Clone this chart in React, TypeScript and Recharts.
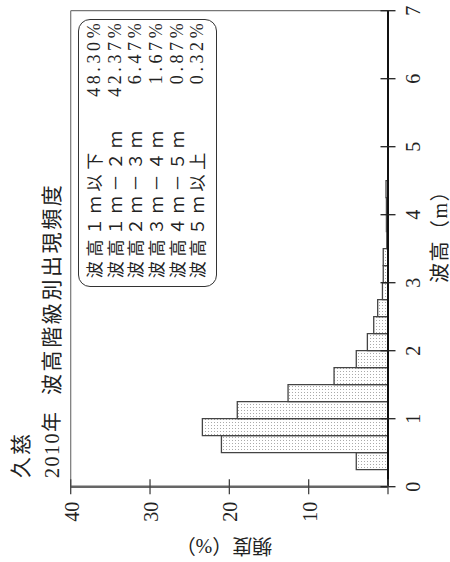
import { BarChart, Bar, XAxis, YAxis, ReferenceLine } from "recharts"

// wave height bins (m, bin centre) and their frequency (%)
const binCenters = [
  0.125, 0.375, 0.625, 0.875, 1.125, 1.375, 1.625, 1.875,
  2.125, 2.375, 2.625, 2.875, 3.125, 3.375, 3.625, 3.875,
  4.125, 4.375, 4.625, 4.875, 5.125, 5.375, 5.625, 5.875,
  6.125, 6.375, 6.625, 6.875,
]
const frequencies = [
  0, 4.0, 21.0, 23.4, 19.0, 12.6, 6.8, 4.0,
  2.6, 1.8, 1.3, 0.7, 0.6, 0.6, 0.15, 0.2,
  0.2, 0.25, 0, 0, 0, 0, 0, 0,
  0, 0, 0, 0,
]

const waveTicks = [0, 1, 2, 3, 4, 5, 6, 7]
const freqTicks = [0, 10, 20, 30, 40]

const legendLabels = ["波高１ｍ以下", "波高１ｍ－２ｍ", "波高２ｍ－３ｍ", "波高３ｍ－４ｍ", "波高４ｍ－５ｍ", "波高５ｍ以上"]
const legendValues = ["48.30%", "42.37%", "6.47%", "1.67%", "0.87%", "0.32%"]

const station = "久慈"
const year = "2010年"
const title = "波高階級別出現頻度"
const xLabel = "波高（m）"
const yLabel = "頻度（%）"

const data = binCenters.map((h, i) => ({ h, f: frequencies[i] }))

const FONT = "'Liberation Serif', 'Noto Sans CJK JP', serif"

// chart is drawn unrotated (562 x 450) then turned 90deg counter-clockwise
const W = 562
const H = 450

function WaveTick({ x, y, payload }: any) {
  return (
    <g>
      <line x1={x} x2={x} y1={y - 7.5} y2={y + 7.5} stroke="#222" strokeWidth={1.3} />
      <text x={x} y={y + 32} textAnchor="middle" fontSize={20} fontFamily={FONT} fill="#222">
        {payload.value}
      </text>
    </g>
  )
}

function FreqTick({ x, y, payload }: any) {
  return (
    <g>
      <line x1={x - 7.5} x2={x + 7.5} y1={y} y2={y} stroke="#444" strokeWidth={1.3} />
      {payload.value !== 0 && (
        <text x={x - 15} y={y + 8} textAnchor="end" fontSize={20} fontFamily={FONT} fill="#222">
          {payload.value}
        </text>
      )}
    </g>
  )
}

export default function App() {
  return (
    <div style={{ position: "absolute", left: 0, top: 0, width: 450, height: 562, overflow: "hidden", background: "#fff" }}>
      <div
        style={{
          position: "absolute",
          left: 0,
          top: 0,
          width: W,
          height: H,
          transformOrigin: "0 0",
          transform: `translateY(${W}px) rotate(-90deg)`,
          fontFamily: FONT,
          color: "#222",
        }}
      >
        <BarChart width={W} height={H} data={data} margin={{ top: 70.7, right: 10.7, bottom: 32, left: 45.3 }} barCategoryGap={0}>
          <defs>
            <pattern id="stipple" width="3" height="3" patternUnits="userSpaceOnUse">
              <rect width="3" height="3" fill="#fff" />
              <rect x="1" y="1" width="1" height="1" fill="#aaa" />
            </pattern>
          </defs>
          <XAxis
            dataKey="h"
            type="number"
            domain={[0, 7]}
            ticks={waveTicks}
            interval={0}
            height={30}
            tickSize={0}
            tickMargin={0}
            tickLine={false}
            tick={<WaveTick />}
            axisLine={{ stroke: "#111", strokeWidth: 2 }}
          />
          <YAxis
            type="number"
            domain={[0, 40]}
            ticks={freqTicks}
            interval={0}
            width={30}
            tickSize={0}
            tickMargin={0}
            tickLine={false}
            tick={<FreqTick />}
            axisLine={{ stroke: "#666", strokeWidth: 2.5 }}
          />
          <ReferenceLine y={40} stroke="#777" strokeWidth={1.2} ifOverflow="visible" />
          <ReferenceLine x={7} stroke="#777" strokeWidth={1.2} ifOverflow="visible" />
          <Bar dataKey="f" fill="url(#stipple)" stroke="#444" strokeWidth={1.3} isAnimationActive={false} />
        </BarChart>

        {/* titles */}
        <div style={{ position: "absolute", left: 84, top: 10, fontSize: 21, lineHeight: "22px", letterSpacing: 2, whiteSpace: "nowrap" }}>
          {station}
        </div>
        <div style={{ position: "absolute", left: 84, top: 41, fontSize: 20, lineHeight: "22px", letterSpacing: 1.5, whiteSpace: "nowrap" }}>
          {year}
        </div>
        <div style={{ position: "absolute", left: 167, top: 41, fontSize: 21, lineHeight: "22px", letterSpacing: 2.6, whiteSpace: "nowrap" }}>
          {title}
        </div>

        {/* legend box */}
        <div
          style={{
            position: "absolute",
            left: 274.7,
            top: 78.3,
            width: 268.6,
            height: 138.4,
            boxSizing: "border-box",
            border: "1.3px solid #333",
            borderRadius: 12,
            paddingTop: 5,
          }}
        >
          {legendLabels.map((lab, i) => (
            <div key={lab} style={{ display: "flex", justifyContent: "space-between", height: 20.6, lineHeight: "20.6px", fontSize: 18, whiteSpace: "nowrap" }}>
              <span style={{ paddingLeft: 8, letterSpacing: 4.7, fontFamily: "'Noto Sans CJK JP', sans-serif", fontSize: 17 }}>{lab}</span>
              <span style={{ paddingRight: 0, letterSpacing: 3.6 }}>{legendValues[i]}</span>
            </div>
          ))}
        </div>

        {/* axis titles */}
        <div style={{ position: "absolute", left: 279, top: 430, fontSize: 20, lineHeight: "20px", letterSpacing: 1.5, whiteSpace: "nowrap" }}>
          {xLabel}
        </div>
        <div
          style={{
            position: "absolute",
            left: 16,
            top: 223.5,
            fontSize: 20,
            lineHeight: "20px",
            whiteSpace: "nowrap",
            transform: "translate(-50%, -50%) rotate(-90deg)",
          }}
        >
          {yLabel}
        </div>
      </div>
    </div>
  )
}
